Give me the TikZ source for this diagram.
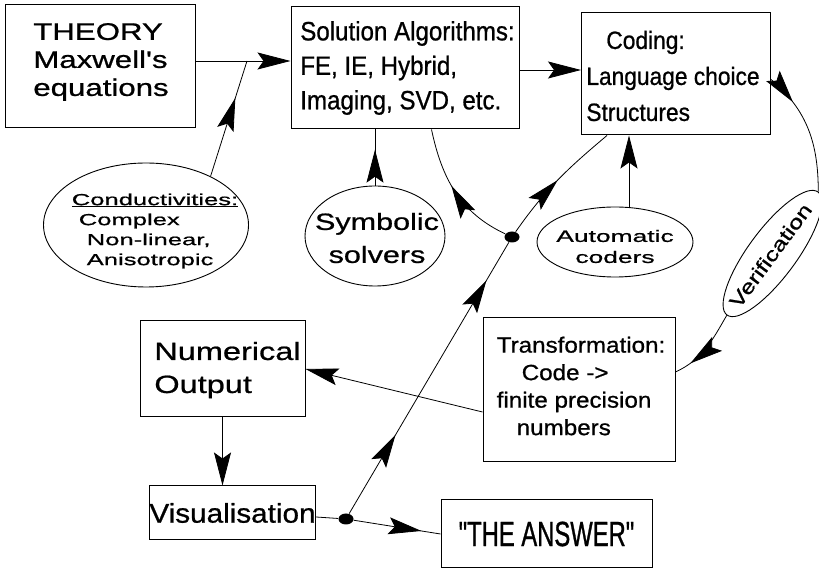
\documentclass[tikz,border=0pt]{standalone}
\usepackage{fontspec}
\setmainfont[FakeBold=0.8]{Liberation Sans}
\newfontfamily\widefont[FakeStretch=1.3,FakeBold=0.8]{Liberation Sans}
\newfontfamily\xwidefont[FakeStretch=1.6,FakeBold=0.8]{Liberation Sans}
\newfontfamily\midfont[FakeStretch=1.1,FakeBold=0.8]{Liberation Sans}
\newfontfamily\narrowfont[FakeStretch=0.91,FakeBold=0.8]{Liberation Sans}
\newfontfamily\condfont[FakeStretch=0.68,FakeBold=0.8]{Liberation Sans}
\usetikzlibrary{arrows.meta,shapes.geometric,decorations.markings}

\begin{document}
\begin{tikzpicture}[x=1pt,y=1pt,line width=0.8pt]
    \tikzstyle{box}=[draw,rectangle,line width=1pt,inner sep=0pt]
    \tikzstyle{oval}=[draw,ellipse,line width=0.9pt,inner sep=0pt]
    \tikzstyle{txt}=[inner sep=0pt,align=left]
    \tikzstyle{dot}=[fill,ellipse,minimum width=15pt,minimum height=11pt,inner sep=0pt]
    \tikzset{bigtip/.tip={Stealth[length=33pt,width=17pt,inset=6pt]}}
    \tikzstyle{arr}=[-bigtip]
    \tikzset{midarr/.style={postaction={decorate,decoration={markings,
        mark=at position #1 with {\arrow{bigtip}}}}}}

    \useasboundingbox (0,0) rectangle (819,570);

    %%%%%%%%%%%%%%%%%%%%%%%%%%%%%%%%%%%%%%%%%%%%
    %%% DRAW THE BOXES
    %%%%%%%%%%%%%%%%%%%%%%%%%%%%%%%%%%%%%%%%%%%%
    \node[box,minimum width=190pt,minimum height=123pt] (theory) at (100,503.5) {};
    \node[box,minimum width=228pt,minimum height=122pt] (solalg) at (405,502) {};
    \node[box,minimum width=189pt,minimum height=122pt] (coding) at (676,496) {};
    \node[box,minimum width=192pt,minimum height=144pt] (transf) at (579,180) {};
    \node[box,minimum width=165pt,minimum height=96pt] (numout) at (222.5,201) {};
    \node[box,minimum width=161pt,minimum height=54pt,
          font=\midfont\fontsize{27}{30}\selectfont] (visual) at (232.5,57) {Visualisation};
    \node[box,minimum width=211pt,minimum height=68pt,
          font=\condfont\fontsize{35}{40}\selectfont] (answer) at (546.5,36) {"THE ANSWER"};

    \node[txt,font=\widefont\fontsize{24}{28}\selectfont] (theory-txt) at (101,508)
        {THEORY\\Maxwell's\\equations};
    \node[txt,font=\narrowfont\fontsize{26.5}{34.5}\selectfont] (solalg-txt) at (407.5,502)
        {Solution Algorithms:\\FE, IE, Hybrid,\\Imaging, SVD, etc.};
    \node[txt,font=\narrowfont\fontsize{25}{36}\selectfont] (coding-txt) at (673,494)
        {\hspace*{20pt}Coding:\\Language choice\\Structures};
    \node[txt,font=\midfont\fontsize{22}{27.5}\selectfont] (transf-txt) at (581,184)
        {Transformation:\\\hspace*{25pt}Code ->\\finite precision\\\hspace*{20pt}numbers};
    \node[txt,font=\widefont\fontsize{25}{33}\selectfont] (numout-txt) at (227.5,200)
        {Numerical\\Output};

    %%%%%%%%%%%%%%%%%%%%%%%%%%%%%%%%%%%%%%%%%%%%
    %%% DRAW THE OVALS
    %%%%%%%%%%%%%%%%%%%%%%%%%%%%%%%%%%%%%%%%%%%%
    \node[oval,minimum width=205pt,minimum height=124pt] (cond) at (146,345) {};
    \node[txt,font=\xwidefont\fontsize{16}{20}\selectfont] (cond-txt) at (155,339)
        {\underline{Conductivities:}\\\hspace*{7pt}Complex\\\hspace*{15pt}Non-linear,\\\hspace*{15pt}Anisotropic};
    \node[oval,minimum width=140pt,minimum height=100pt] (symb) at (375,334) {};
    \node[txt,align=center,font=\widefont\fontsize{23.5}{33}\selectfont] (symb-txt) at (377,332)
        {Symbolic\\solvers};
    \node[oval,minimum width=156pt,minimum height=70pt] (auto) at (615,328) {};
    \node[txt,align=center,font=\xwidefont\fontsize{16.5}{21}\selectfont] (auto-txt) at (615,323.5)
        {Automatic\\coders};
    \node[oval,minimum width=153pt,minimum height=48pt,rotate=53.5] (verif) at (772.5,316.5) {};
    \node[txt,rotate=53.5,font=\widefont\fontsize{19.5}{24}\selectfont] (verif-txt) at ([xshift=-2pt,yshift=-2pt]verif)
        {Verification};

    \foreach \name/\x/\y in {A/512/333, B/346/51}
        \node[dot] (dot-\name) at (\x,\y) {};

    %%%%%%%%%%%%%%%%%%%%%%%%%%%%%%%%%%%%%%%%%%%%
    %%% DRAW THE PATHS
    %%%%%%%%%%%%%%%%%%%%%%%%%%%%%%%%%%%%%%%%%%%%
    \coordinate (j1) at (247,509);
    \draw[arr] (theory.east |- j1) -- (solalg.west |- j1);
    \draw[midarr=0.68] (cond.37) -- (j1);
    \draw[arr] ([yshift=-2pt]solalg.east) -- ([yshift=-2pt]solalg.east -| coding.west);
    \draw[midarr=0.64] (symb.north) -- (symb.north |- solalg.south);
    \draw[arr] ([xshift=14pt]auto.north) -- ([xshift=14pt]auto.north |- coding.south);

    % feedback through the upper junction
    \draw[midarr=0.55] (dot-A) to[out=155,in=-78] ([xshift=26.5pt]solalg.south);
    \draw[midarr=0.5] (dot-A) to[out=55,in=220] ([xshift=26pt]coding.south west);
    \draw[midarr=0.29,midarr=0.86] (dot-B) -- (dot-A);

    % coding loop
    \draw[midarr=0.25] ([yshift=-5.5pt]coding.east) to[out=-40,in=90] (verif.east);
    \draw[midarr=0.78] (verif.west) to[out=240,in=25] ([yshift=18pt]transf.east);
    \draw[arr] ([yshift=-22pt]transf.west) -- (numout.east);
    \draw[arr] (numout.south) -- (numout.south |- visual.north);
    \draw ([yshift=-4pt]visual.east) -- (dot-B);
    \draw[midarr=0.78] (dot-B) -- (answer.west);
\end{tikzpicture}
\end{document}
